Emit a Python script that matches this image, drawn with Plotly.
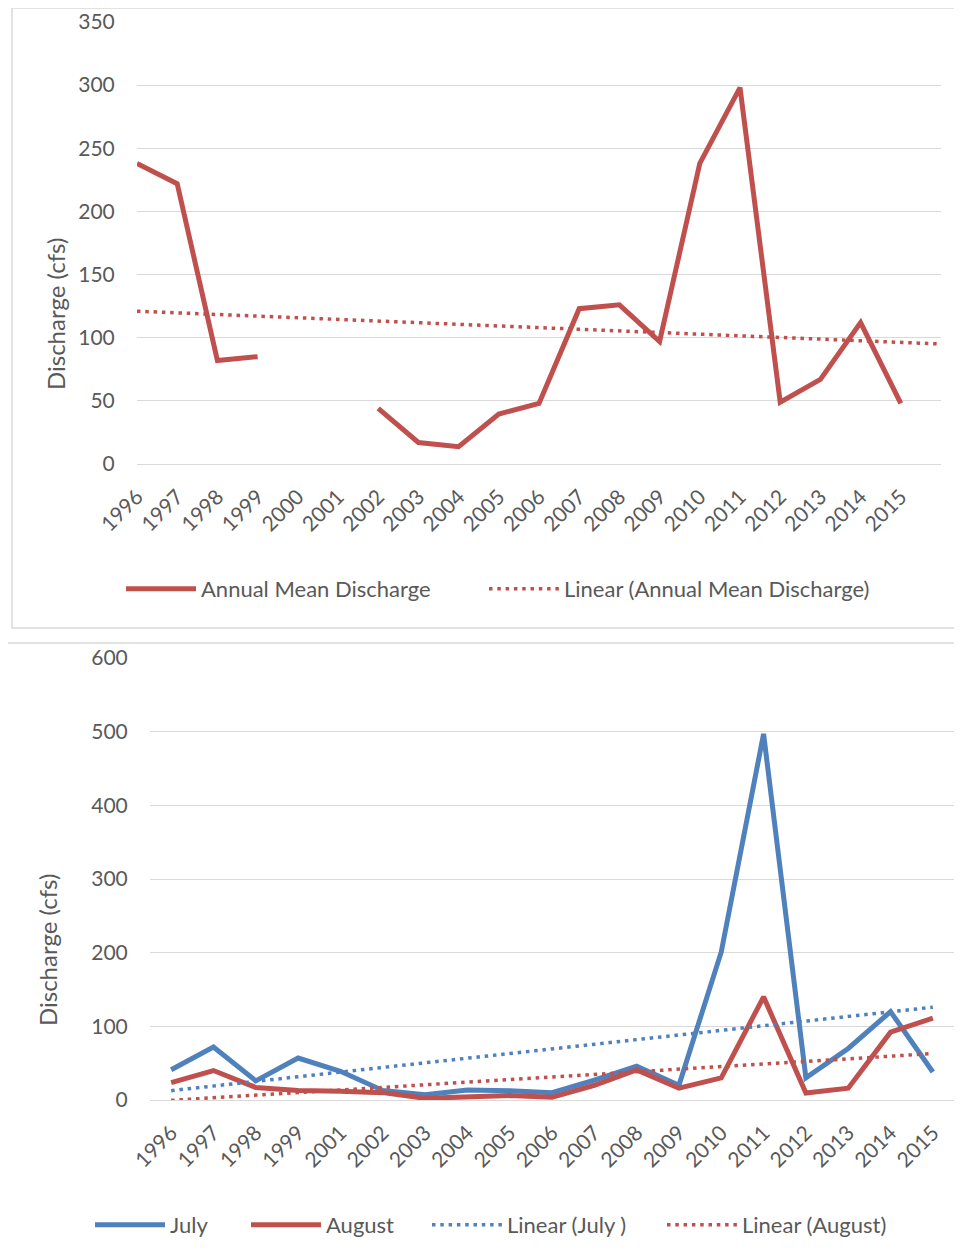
import plotly.graph_objects as go

# page body has an 8px margin: the figure is sized/offset to land on the 962x1256 canvas
PAGE_W, PAGE_H, OFF = 962, 1256, 8
W, H = PAGE_W - OFF, PAGE_H - OFF

# ---------------- data ----------------
years_top = list(range(1996, 2016))
years_top_labels = [str(y) for y in years_top]
annual_mean = [238, 222, 82, 85, None, None, 44, 17, 13.7, 39.6, 48, 123, 126, 97,
               238, 298, 49, 67, 112, 48]
annual_trend_x = [1996, 2016]
annual_trend = [121, 95]

years_bottom = ['1996', '1997', '1998', '1999', '2001', '2002', '2003', '2004', '2005',
                '2006', '2007', '2008', '2009', '2010', '2011', '2012', '2013', '2014', '2015']
july = [41, 72, 26, 57, 39, 13, 7, 13.6, 12.7, 10, 27, 46, 20, 201, 497, 30, 70, 120, 38]
august = [23.5, 40, 17, 13, 12, 10, 2.3, 4.5, 6, 3.6, 20, 40.7, 16, 30, 140, 9.5, 16, 92, 111]
trend_x_bottom = [years_bottom[0], years_bottom[-1]]
july_trend = [12.7, 126]
august_trend = [-0.5, 63]

y_ticks_top = [0, 50, 100, 150, 200, 250, 300, 350]
y_ticks_bottom = [0, 100, 200, 300, 400, 500, 600]

# ---------------- style ----------------
RED = '#C0504D'
BLUE = '#4F81BD'
GRID = '#D9D9D9'
TXT = '#595959'
FONT = 'Lato'
FS_TICK = 21
FS_LEG = 22
FS_TITLE = 24
ITEMW = 70
DOT = '3.5px,4.8px'


def px(x):
    return (x - OFF) / W


def py(y):
    return 1 - (y - OFF) / H


fig = go.Figure()

fig.add_trace(go.Scatter(x=years_top, y=annual_mean, mode='lines', name='Annual Mean Discharge',
                         line=dict(color=RED, width=5), connectgaps=False,
                         xaxis='x', yaxis='y', legend='legend'))
fig.add_trace(go.Scatter(x=annual_trend_x, y=annual_trend, mode='lines',
                         name='Linear (Annual Mean Discharge)',
                         line=dict(color=RED, width=3.5, dash=DOT),
                         xaxis='x', yaxis='y', legend='legend2'))

fig.add_trace(go.Scatter(x=years_bottom, y=july, mode='lines', name='July',
                         line=dict(color=BLUE, width=5), xaxis='x2', yaxis='y2', legend='legend3'))
fig.add_trace(go.Scatter(x=years_bottom, y=august, mode='lines', name='August',
                         line=dict(color=RED, width=5), xaxis='x2', yaxis='y2', legend='legend4'))
fig.add_trace(go.Scatter(x=trend_x_bottom, y=july_trend, mode='lines', name='Linear (July )',
                         line=dict(color=BLUE, width=3.5, dash=DOT),
                         xaxis='x2', yaxis='y2', legend='legend5'))
fig.add_trace(go.Scatter(x=trend_x_bottom, y=august_trend, mode='lines', name='Linear (August)',
                         line=dict(color=RED, width=3.5, dash=DOT),
                         xaxis='x2', yaxis='y2', legend='legend6'))

tickfont = dict(family=FONT, size=FS_TICK, color=TXT)

fig.update_layout(
    width=W, height=H,
    margin=dict(l=0, r=0, t=0, b=0),
    paper_bgcolor='white', plot_bgcolor='white',
    font=dict(family=FONT, size=FS_TICK, color=TXT),
    xaxis=dict(domain=[px(137), px(941)], anchor='y', range=[1996, 2016],
               tickmode='array', tickvals=years_top, ticktext=years_top_labels,
               tickangle=-45, tickfont=tickfont, showgrid=False, zeroline=False,
               showline=True, linecolor=GRID, linewidth=1.3,
               ticks='outside', ticklen=11, tickcolor='rgba(0,0,0,0)', automargin=False),
    yaxis=dict(domain=[py(464), py(22)], anchor='x', range=[0, 350],
               tickmode='array', tickvals=y_ticks_top, tickfont=tickfont,
               showgrid=True, gridcolor=GRID, gridwidth=1.3, zeroline=False, showline=False,
               ticks='outside', ticklen=17, tickcolor='rgba(0,0,0,0)', automargin=False),
    xaxis2=dict(domain=[px(150), px(954)], anchor='y2', type='category',
                range=[-0.5, len(years_bottom) - 0.5],
                tickangle=-45, tickfont=tickfont, showgrid=False, zeroline=False,
                showline=True, linecolor=GRID, linewidth=1.3,
                ticks='outside', ticklen=11, tickcolor='rgba(0,0,0,0)', automargin=False),
    yaxis2=dict(domain=[py(1100), py(658)], anchor='x2', range=[0, 600],
                tickmode='array', tickvals=y_ticks_bottom, tickfont=tickfont,
                showgrid=True, gridcolor=GRID, gridwidth=1.3, zeroline=False, showline=False,
                ticks='outside', ticklen=17, tickcolor='rgba(0,0,0,0)', automargin=False),
    showlegend=True,
)

leg_common = dict(orientation='h', yanchor='middle', xanchor='left', itemwidth=ITEMW,
                  bgcolor='rgba(0,0,0,0)', font=dict(family=FONT, size=FS_LEG, color=TXT))
TEXT_OFF = ITEMW + 10
fig.update_layout(
    legend=dict(x=px(201 - TEXT_OFF), y=py(589), **leg_common),
    legend2=dict(x=px(564 - TEXT_OFF), y=py(589), **leg_common),
    legend3=dict(x=px(170 - TEXT_OFF), y=py(1225), **leg_common),
    legend4=dict(x=px(326 - TEXT_OFF), y=py(1225), **leg_common),
    legend5=dict(x=px(507 - TEXT_OFF), y=py(1225), **leg_common),
    legend6=dict(x=px(742 - TEXT_OFF), y=py(1225), **leg_common),
)

fig.add_annotation(text='Discharge (cfs)', textangle=-90, x=px(55), y=py(314),
                   xanchor='center', yanchor='middle',
                   xref='paper', yref='paper', showarrow=False,
                   font=dict(family=FONT, size=FS_TITLE, color=TXT))
fig.add_annotation(text='Discharge (cfs)', textangle=-90, x=px(47), y=py(950),
                   xanchor='center', yanchor='middle',
                   xref='paper', yref='paper', showarrow=False,
                   font=dict(family=FONT, size=FS_TITLE, color=TXT))

# chart frames
fig.add_shape(type='rect', xref='paper', yref='paper', x0=px(12), x1=1.05, y0=py(628), y1=py(8),
              line=dict(color=GRID, width=1.5), fillcolor='rgba(0,0,0,0)', layer='below')
fig.add_shape(type='rect', xref='paper', yref='paper', x0=px(4), x1=1.05, y0=-0.05, y1=py(643),
              line=dict(color=GRID, width=1.5), fillcolor='rgba(0,0,0,0)', layer='below')

fig.write_html('out.html')
